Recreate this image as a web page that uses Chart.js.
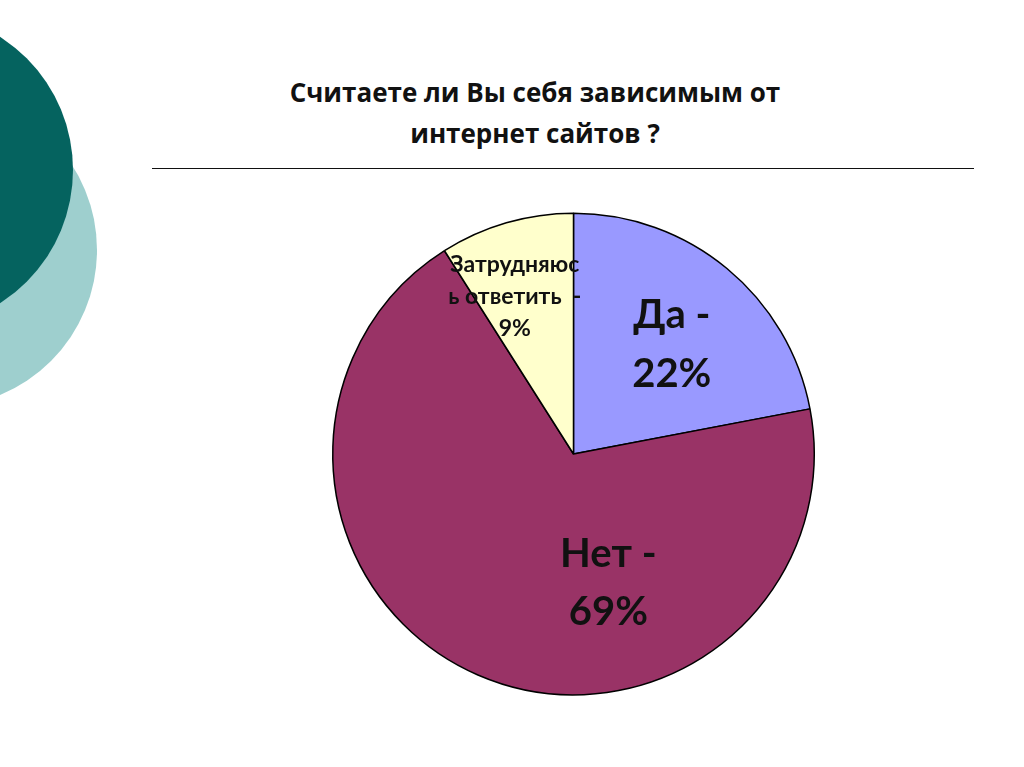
<!DOCTYPE html>
<html>
<head>
<meta charset="utf-8">
<script src="https://cdn.jsdelivr.net/npm/chart.js@4.4.1/dist/chart.umd.min.js"></script>
<style>
  html, body { margin: 0; padding: 0; background: #ffffff; overflow: hidden; }
  #wrap { position: relative; width: 1024px; height: 767px; overflow: hidden; background: #fff; }
  .circ { position: absolute; border-radius: 50%; }
  #c1 { left: -217px; top: 93px; width: 314px; height: 314px; background: #9ecfce; }
  #c2 { left: -243px; top: 12px; width: 316px; height: 316px; background: #05635f; }
  #title { position: absolute; left: 135px; width: 800px; top: 72px; text-align: center;
           font-family: "Open Sans", Lato, sans-serif; font-weight: bold; font-size: 26px;
           line-height: 41px; color: #111; }
  #rule { position: absolute; left: 152px; top: 168px; width: 822px; height: 0; border-top: 1.5px solid #111; }
  canvas { position: absolute; left: 0; top: 0; }
</style>
</head>
<body>
<div id="wrap">
  <div class="circ" id="c1"></div>
  <div class="circ" id="c2"></div>
  <div id="title">Считаете ли Вы себя зависимым от<br>интернет сайтов ?</div>
  <div id="rule"></div>
  <canvas id="chart" width="1024" height="767"></canvas>
</div>
<script>
const categories = ['Да', 'Нет', 'Затрудняюсь ответить'];
const values = [22, 69, 9];
const sliceColors = ['#9999ff', '#993366', '#ffffcc'];
const labelLines = [['Да -', '22%'], ['Нет -', '69%'], ['Затрудняюс', 'ь ответить  -', '9%']];

// label placement: angle (deg clockwise from top) and fraction of radius
const labelPlace = [
  { ang: 42, frac: 0.61, size: 40, lh: 59, dy: 0 },
  { ang: 165, frac: 0.56, size: 40, lh: 58, dy: -1 },
  { ang: 339.3, frac: 0.69, size: 23, lh: 32, dy: -2 }
];

const labelPlugin = {
  id: 'sliceLabels',
  afterDatasetsDraw(chart) {
    const ctx = chart.ctx;
    const meta = chart.getDatasetMeta(0);
    meta.data.forEach((arc, i) => {
      const p = labelPlace[i];
      const a = p.ang * Math.PI / 180;
      const r = arc.outerRadius * p.frac;
      const x = arc.x + r * Math.sin(a);
      const y = arc.y - r * Math.cos(a) + p.dy;
      ctx.save();
      ctx.fillStyle = '#111';
      ctx.font = 'bold ' + p.size + 'px Lato, "Open Sans", sans-serif';
      ctx.textAlign = 'center';
      ctx.textBaseline = 'middle';
      const lines = labelLines[i];
      const y0 = y - (lines.length - 1) * p.lh / 2;
      lines.forEach((t, k) => ctx.fillText(t, x, y0 + k * p.lh));
      ctx.restore();
    });
  }
};

new Chart(document.getElementById('chart'), {
  type: 'pie',
  data: {
    labels: categories,
    datasets: [{
      data: values,
      backgroundColor: sliceColors,
      borderColor: '#000000',
      borderWidth: 1.5
    }]
  },
  options: {
    responsive: false,
    animation: false,
    devicePixelRatio: 1,
    layout: { padding: { left: 332, right: 209, top: 212, bottom: 71 } },
    plugins: {
      legend: { display: false },
      tooltip: { enabled: false },
      title: { display: false }
    }
  },
  plugins: [labelPlugin]
});
</script>
</body>
</html>
